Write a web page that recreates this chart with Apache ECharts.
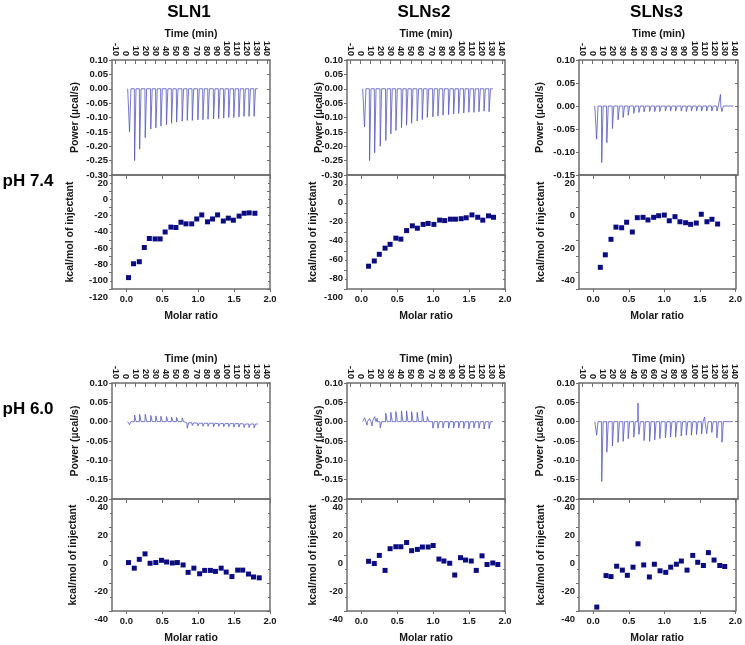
<!DOCTYPE html>
<html><head><meta charset="utf-8">
<script src="https://cdn.jsdelivr.net/npm/echarts@6/dist/echarts.min.js"></script>
<style>html,body{margin:0;padding:0;background:#fff}#c{width:745px;height:645px}</style>
</head><body><div id="c"></div>
<script>
// ---------- data ----------
const colTitles = ['SLN1', 'SLNs2', 'SLNs3'];
const rowTitles = ['pH 7.4', 'pH 6.0'];
const timeTicks = [-10, 0, 10, 20, 30, 40, 50, 60, 70, 80, 90, 100, 110, 120, 130, 140];
const molarTicks = [0, 0.5, 1.0, 1.5, 2.0];

// injection times (min)
const injTimes = [4, 9, 14, 19.5, 25, 30, 35, 40.5, 45.5, 50.5, 56, 61, 66, 71.5, 76.5, 81.5, 87, 92, 97, 102, 107, 112, 117, 122, 127];

// thermogram peak heights (µcal/s)
const peaks74_SLN1 = [-0.150, -0.250, -0.210, -0.170, -0.140, -0.136, -0.130, -0.125, -0.120, -0.116, -0.113, -0.110, -0.110, -0.108, -0.108, -0.106, -0.105, -0.104, -0.102, -0.100, -0.100, -0.098, -0.096, -0.096, -0.096];
const peaks74_SLNs2 = [-0.133, -0.250, -0.223, -0.200, -0.180, -0.157, -0.145, -0.135, -0.127, -0.120, -0.112, -0.107, -0.100, -0.098, -0.095, -0.092, -0.090, -0.088, -0.086, -0.084, -0.082, -0.082, -0.080, -0.078, -0.080];
const peaks74_SLNs3 = [-0.072, -0.123, -0.080, -0.049, -0.030, -0.025, -0.020, -0.016, -0.014, -0.013, -0.012, -0.012, -0.012, -0.011, -0.011, -0.011, -0.011, -0.012, -0.011, -0.011, -0.011, -0.011, -0.011, -0.011, -0.012];
const extras74_SLNs3 = [[125.5, 0.025]];
const peaks60_SLN1 = [-0.008, 0.017, 0.019, 0.019, 0.016, 0.015, 0.014, 0.013, 0.012, 0.011, 0.010, -0.017, -0.010, -0.011, -0.012, -0.012, -0.013, -0.012, -0.013, -0.013, -0.014, -0.014, -0.015, -0.015, -0.016];
const base60_SLN1 = [0, 0, 0, 0, 0, 0, 0, 0, 0, 0, 0, -0.003, -0.003, -0.004, -0.004, -0.004, -0.004, -0.005, -0.005, -0.005, -0.005, -0.005, -0.006, -0.006, -0.006];
const peaks60_SLNs2 = [0.010, 0.008, 0.013, -0.016, 0.022, 0.024, 0.026, 0.028, 0.028, 0.026, 0.024, 0.028, 0.013, -0.017, -0.017, -0.016, -0.017, -0.016, -0.016, -0.017, -0.019, -0.016, -0.017, -0.019, -0.018];
const extras60_SLNs2 = [[6.5, -0.009], [11.5, -0.011], [16.5, 0.009]];
const peaks60_SLNs3 = [-0.035, -0.155, -0.079, -0.063, -0.054, -0.051, -0.044, -0.040, -0.033, -0.049, -0.051, -0.047, -0.044, -0.042, -0.040, -0.040, -0.037, -0.035, -0.035, -0.033, -0.032, -0.031, -0.028, -0.042, -0.053];
const extras60_SLNs3 = [[44.6, 0.048], [110, 0.012]];
const traceStart = [2.5, 2.5, 2.5, 2.5, 2.5, 2.5];
const traceEnd = [131, 131, 138, 131, 131, 138];

// integrated heats (kcal/mol of injectant) vs molar ratio
const molar74_SLN1 = [0.03, 0.10, 0.18, 0.25, 0.32, 0.40, 0.47, 0.54, 0.62, 0.69, 0.76, 0.83, 0.91, 0.98, 1.05, 1.13, 1.20, 1.27, 1.35, 1.42, 1.49, 1.57, 1.64, 1.71, 1.79];
const heat74_SLN1 = [-106, -89, -86.5, -69, -58, -58.5, -58.5, -50, -44, -44.5, -38, -40, -40, -34, -29, -37.5, -34, -29, -36.5, -33, -35.5, -30.5, -27, -26.5, -27];
const molar74_SLNs2 = [0.10, 0.18, 0.25, 0.33, 0.40, 0.48, 0.55, 0.63, 0.71, 0.78, 0.86, 0.93, 1.01, 1.09, 1.16, 1.24, 1.31, 1.39, 1.46, 1.54, 1.62, 1.69, 1.77, 1.84];
const heat74_SLNs2 = [-76, -70.5, -63.5, -57, -53, -46.5, -47.5, -38.5, -33.5, -36, -32, -31, -32, -27.5, -28, -26.5, -26.5, -26, -25, -22, -24.5, -27.5, -23, -24.5];
const molar74_SLNs3 = [0.10, 0.17, 0.25, 0.32, 0.40, 0.47, 0.55, 0.62, 0.70, 0.77, 0.85, 0.92, 1.00, 1.07, 1.15, 1.22, 1.30, 1.37, 1.45, 1.52, 1.60, 1.67, 1.75];
const heat74_SLNs3 = [-36.7, -29, -19.5, -12, -12.4, -9, -15, -6.2, -6, -7.6, -6, -5, -4.6, -8.1, -5.6, -8.7, -9.3, -10.3, -9.5, -4.1, -8.7, -7.2, -10.1];
const molar60_SLN1 = [0.03, 0.11, 0.18, 0.26, 0.33, 0.41, 0.49, 0.56, 0.64, 0.71, 0.79, 0.86, 0.94, 1.02, 1.09, 1.17, 1.24, 1.32, 1.39, 1.47, 1.55, 1.62, 1.70, 1.77, 1.85];
const heat60_SLN1 = [-5.4, -9.4, -3.1, 0.8, -5.9, -5.4, -3.8, -5, -5.7, -5.4, -7.1, -12.4, -9.4, -13.4, -11, -11, -11.7, -9.4, -12.2, -15.4, -10.8, -10.8, -13.6, -15.7, -16.3];
const molar60_SLNs2 = [0.10, 0.18, 0.25, 0.33, 0.40, 0.48, 0.55, 0.63, 0.70, 0.78, 0.85, 0.93, 1.00, 1.08, 1.15, 1.23, 1.30, 1.38, 1.45, 1.53, 1.60, 1.68, 1.75, 1.83, 1.90];
const heat60_SLNs2 = [-4.5, -6.1, -0.3, -11, 4.5, 5.9, 5.9, 8.9, 3.1, 4, 5.7, 5.7, 6.8, -2.9, -4.3, -5.9, -14.3, -1.9, -3.6, -4.3, -11, -0.6, -6.8, -5.7, -6.8];
const molar60_SLNs3 = [0.05, 0.18, 0.25, 0.33, 0.41, 0.48, 0.56, 0.63, 0.71, 0.79, 0.86, 0.94, 1.02, 1.09, 1.17, 1.24, 1.32, 1.40, 1.47, 1.55, 1.62, 1.70, 1.78, 1.85];
const heat60_SLNs3 = [-37.2, -14.7, -15.4, -8, -10.8, -14.5, -8.7, 8, -7.1, -15.7, -6.6, -11.3, -12.4, -8.7, -6.6, -4.3, -10.8, -0.3, -5.2, -7.5, 1.7, -3.6, -7.5, -8.2];

// ---------- layout / style ----------
const FONT = '"Liberation Sans", Arial, Helvetica, sans-serif';
const FRAME = '#6e6e6e';
const TXT = '#161616';
const LINE = '#5357bd';
const DOT = '#0b0b82';
const cols = [{left: 112, width: 158}, {left: 347, width: 158}, {left: 579, width: 159}];
const rows = [
  {top: {top: 60, height: 115}, bot: {top: 175, height: 114}, titleY: 12, phY: 181, gT: 20, gM: 22},
  {top: {top: 383, height: 116}, bot: {top: 499, height: 115}, phY: 409, gT: 18, gM: 22}
];
const panels = [
  {r: 0, c: 0, peaks: peaks74_SLN1, extras: [], base: null, pMin: -0.30, pMax: 0.10, mx: molar74_SLN1, hy: heat74_SLN1, hMin: -120, hMax: 20, hInt: 20, hLab: null, gP: 31, gK: 36},
  {r: 0, c: 1, peaks: peaks74_SLNs2, extras: [], base: null, pMin: -0.30, pMax: 0.10, mx: molar74_SLNs2, hy: heat74_SLNs2, hMin: -100, hMax: 20, hInt: 20, hLab: null, gP: 22, gK: 28},
  {r: 0, c: 2, peaks: peaks74_SLNs3, extras: extras74_SLNs3, base: null, pMin: -0.15, pMax: 0.10, mx: molar74_SLNs3, hy: heat74_SLNs3, hMin: -50, hMax: 20, hInt: 10, hLab: 20, gP: 33, gK: 32},
  {r: 1, c: 0, peaks: peaks60_SLN1, extras: [], base: base60_SLN1, pMin: -0.20, pMax: 0.10, mx: molar60_SLN1, hy: heat60_SLN1, hMin: -40, hMax: 40, hInt: 20, hLab: null, gP: 31, gK: 33},
  {r: 1, c: 1, peaks: peaks60_SLNs2, extras: extras60_SLNs2, base: null, pMin: -0.20, pMax: 0.10, mx: molar60_SLNs2, hy: heat60_SLNs2, hMin: -40, hMax: 40, hInt: 20, hLab: null, gP: 22, gK: 28},
  {r: 1, c: 2, peaks: peaks60_SLNs3, extras: extras60_SLNs3, base: null, pMin: -0.20, pMax: 0.10, mx: molar60_SLNs3, hy: heat60_SLNs3, hMin: -40, hMax: 40, hInt: 20, hLab: null, gP: 33, gK: 32}
];

function buildTrace(p, k) {
  const ev = [];
  injTimes.forEach((t, i) => ev.push({t: t, v: p.peaks[i], b: p.base ? p.base[i] : 0, w: 1.7}));
  p.extras.forEach(e => ev.push({t: e[0], v: e[1], b: 0, w: 0.6}));
  ev.sort((a, b) => a.t - b.t);
  const pts = [[traceStart[k], ev[0].b]];
  ev.forEach(e => { pts.push([e.t, e.b], [e.t + 0.3, e.v], [e.t + e.w, e.b]); });
  pts.push([traceEnd[k], ev[ev.length - 1].b]);
  return pts;
}

const lbl = {color: TXT, fontFamily: FONT, fontWeight: 'bold', fontSize: 9.5};
const nameSt = {color: TXT, fontFamily: FONT, fontWeight: 'bold', fontSize: 10.5};
const axLine = {show: true, onZero: false, lineStyle: {color: FRAME, width: 1.5}};

const grid = [], xAxis = [], yAxis = [], series = [];
panels.forEach((p, k) => {
  const col = cols[p.c], row = rows[p.r];
  // ----- top (thermogram) -----
  const gT = grid.length;
  grid.push({left: col.left, width: col.width, top: row.top.top, height: row.top.height});
  const xT = xAxis.length;
  xAxis.push({gridIndex: gT, type: 'value', position: 'top', min: -13, max: 143,
    axisLine: axLine, splitLine: {show: false},
    axisTick: {inside: true, length: 4, customValues: timeTicks, lineStyle: {color: FRAME, width: 1}},
    axisLabel: {rotate: 90, margin: 4, customValues: timeTicks, fontSize: 9, color: TXT, fontFamily: FONT, fontWeight: 'bold'},
    name: 'Time (min)', nameLocation: 'middle', nameGap: row.gT, nameTextStyle: nameSt, nameMoveOverlap: false});
  xAxis.push({gridIndex: gT, type: 'value', position: 'bottom', min: -13, max: 143,
    axisLine: axLine, axisTick: {show: false}, axisLabel: {show: false}, splitLine: {show: false}});
  const yT = yAxis.length;
  yAxis.push({gridIndex: gT, type: 'value', position: 'left', min: p.pMin, max: p.pMax, interval: 0.05,
    axisLine: axLine, splitLine: {show: false},
    axisTick: {inside: false, length: 3, lineStyle: {color: FRAME, width: 1}},
    axisLabel: Object.assign({margin: 4, showMinLabel: true, showMaxLabel: true, formatter: v => v.toFixed(2)}, lbl),
    name: 'Power (\u00b5cal/s)', nameLocation: 'middle', nameRotate: 90, nameGap: p.gP, nameTextStyle: nameSt, nameMoveOverlap: false});
  yAxis.push({gridIndex: gT, type: 'value', position: 'right', min: p.pMin, max: p.pMax, interval: 0.05,
    axisLine: axLine, splitLine: {show: false}, axisLabel: {show: false},
    axisTick: {inside: true, length: 3, lineStyle: {color: FRAME, width: 1}}});
  series.push({type: 'line', xAxisIndex: xT, yAxisIndex: yT, data: buildTrace(p, k), showSymbol: false,
    symbol: 'none', lineStyle: {color: LINE, width: 0.8}, animation: false, clip: true});

  // ----- bottom (isotherm) -----
  const gB = grid.length;
  grid.push({left: col.left, width: col.width, top: row.bot.top, height: row.bot.height});
  const xB = xAxis.length;
  xAxis.push({gridIndex: gB, type: 'value', position: 'bottom', min: -0.2, max: 2.0,
    axisLine: axLine, splitLine: {show: false},
    axisTick: {inside: false, length: 3, customValues: molarTicks, lineStyle: {color: FRAME, width: 1}},
    axisLabel: Object.assign({margin: 5, customValues: molarTicks, formatter: v => v.toFixed(1)}, lbl),
    name: 'Molar ratio', nameLocation: 'middle', nameGap: row.gM, nameTextStyle: nameSt, nameMoveOverlap: false});
  xAxis.push({gridIndex: gB, type: 'value', position: 'top', min: -0.2, max: 2.0,
    axisLine: axLine, splitLine: {show: false}, axisLabel: {show: false},
    axisTick: {inside: true, length: 4, customValues: molarTicks, lineStyle: {color: FRAME, width: 1}}});
  const yB = yAxis.length;
  yAxis.push({gridIndex: gB, type: 'value', position: 'left', min: p.hMin, max: p.hMax, interval: p.hInt,
    axisLine: axLine, splitLine: {show: false},
    axisTick: {inside: false, length: 3, lineStyle: {color: FRAME, width: 1}},
    minorTick: {show: p.hInt === 20, splitNumber: 2, length: 2, lineStyle: {color: FRAME}},
    axisLabel: Object.assign({margin: 4, showMinLabel: true, showMaxLabel: true, verticalAlign: 'top', padding: [3, 0, 0, 0],
      formatter: v => (p.hLab && Math.round(v) % p.hLab !== 0) ? '' : String(Math.round(v))}, lbl),
    name: 'kcal/mol of injectant', nameLocation: 'middle', nameRotate: 90, nameGap: p.gK, nameTextStyle: nameSt, nameMoveOverlap: false});
  yAxis.push({gridIndex: gB, type: 'value', position: 'right', min: p.hMin, max: p.hMax, interval: p.hInt,
    axisLine: axLine, splitLine: {show: false}, axisLabel: {show: false},
    minorTick: {show: p.hInt === 20, splitNumber: 2, length: 2, lineStyle: {color: FRAME}},
    axisTick: {inside: true, length: 3, lineStyle: {color: FRAME, width: 1}}});
  series.push({type: 'scatter', xAxisIndex: xB, yAxisIndex: yB, symbol: 'rect', symbolSize: 5,
    itemStyle: {color: DOT, opacity: 1}, data: p.mx.map((x, i) => [x, p.hy[i]]), animation: false});
});

const graphic = [];
colTitles.forEach((t, c) => graphic.push({type: 'text', x: cols[c].left + cols[c].width / 2 - 2, y: rows[0].titleY,
  style: {text: t, fill: '#000', font: 'bold 17px ' + FONT, align: 'center', verticalAlign: 'middle'}}));
rowTitles.forEach((t, r) => graphic.push({type: 'text', x: 28, y: rows[r].phY,
  style: {text: t, fill: '#000', font: 'bold 17px ' + FONT, align: 'center', verticalAlign: 'middle'}}));

const chart = echarts.init(document.getElementById('c'), null, {renderer: 'canvas'});
chart.setOption({animation: false, backgroundColor: '#fff', grid, xAxis, yAxis, series, graphic});
</script></body></html>
